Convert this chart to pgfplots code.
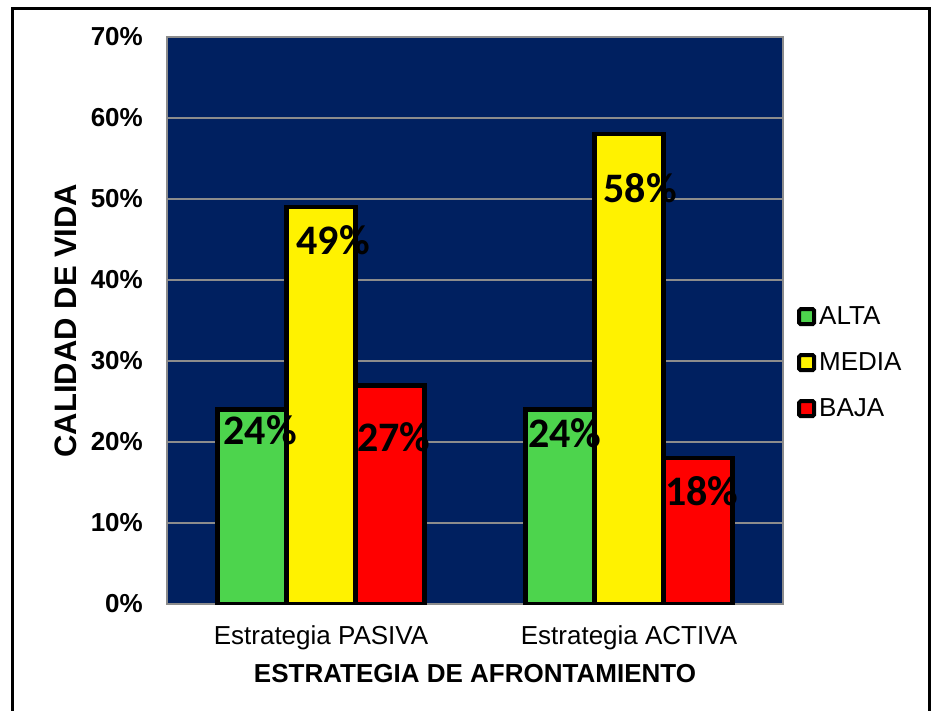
\documentclass[border=0pt]{standalone}
\usepackage{fontspec}
\setmainfont{Liberation Sans}
\newfontfamily\calibri{Carlito}
\usepackage{pgfplots}
\usepackage{pgfplotstable}
\pgfplotsset{compat=1.18}
\definecolor{navy}{HTML}{002060}
\definecolor{exgreen}{HTML}{4DD44D}
\definecolor{gridgray}{HTML}{8C8C8C}

% calidad de vida (%) por estrategia
\pgfplotstableread{
x alta media baja
0 24   49    27
1 24   58    18
}\datatable

\begin{document}
\begin{tikzpicture}[x=1pt,y=1pt]
\path[use as bounding box] (-167,-106) rectangle (764,604);
\draw[line width=3.5pt] (-154.5,595.5) rectangle (762.5,-118);
\begin{axis}[
  at={(0,0)}, anchor=south west,
  scale only axis, width=616pt, height=567pt,
  xmin=-0.5, xmax=1.5, ymin=0, ymax=70,
  axis background/.style={fill=navy},
  axis line style={gridgray, line width=1.5pt},
  ytick={0,10,...,70},
  yticklabels={0\%,10\%,20\%,30\%,40\%,50\%,60\%,70\%},
  xtick={0,1},
  xticklabels={Estrategia PASIVA, Estrategia ACTIVA},
  major tick length=0pt,
  ymajorgrids, grid style={gridgray, line width=1.5pt},
  yticklabel style={font=\fontsize{26}{30}\selectfont\bfseries, anchor=east, inner sep=0pt, xshift=-24pt},
  xticklabel style={font=\fontsize{26}{30}\selectfont, anchor=base, inner sep=0pt, yshift=-40pt},
  xlabel={ESTRATEGIA DE AFRONTAMIENTO},
  xlabel style={font=\fontsize{26}{30}\selectfont\bfseries, at={(axis description cs:0.5,-0.1393)}, anchor=base, inner sep=0pt},
  ylabel={CALIDAD DE VIDA},
  ylabel style={font=\fontsize{31}{36}\selectfont\bfseries, at={(axis description cs:-0.164,0.5)}, anchor=center, inner sep=0pt},
  ybar, bar width=69pt,
  legend image code/.code={\draw[#1, draw=black, line width=4pt, rounded corners=1.5pt] (0pt,-8.3pt) rectangle (15pt,6.7pt);},
  legend style={at={(axis description cs:1.0227,0.5256)}, anchor=north west, draw=none, fill=none, inner sep=0pt,
    row sep=26pt, column sep=3pt, font=\fontsize{26}{30}\selectfont, nodes={inner sep=0pt}},
  legend cell align=left,
]
\addplot[fill=exgreen, draw=black, line width=4.5pt, bar shift=-69pt] table[x=x,y=alta]{\datatable};
\addplot[fill=yellow, draw=black, line width=4.5pt, bar shift=0pt] table[x=x,y=media]{\datatable};
\addplot[fill=red, draw=black, line width=4.5pt, bar shift=69pt] table[x=x,y=baja]{\datatable};
\legend{ALTA,MEDIA,BAJA}
\begin{scope}[every node/.style={font=\calibri\bfseries\fontsize{42}{46}\selectfont, anchor=base, inner sep=0pt}]
\node at (axis cs:-0.198,19.63) {24\%};
\node at (axis cs:0.039,43.09) {49\%};
\node at (axis cs:0.237,18.77) {27\%};
\node at (axis cs:0.792,19.38) {24\%};
\node at (axis cs:1.036,49.51) {58\%};
\node at (axis cs:1.237,12.22) {18\%};
\end{scope}
\end{axis}
\end{tikzpicture}
\end{document}
